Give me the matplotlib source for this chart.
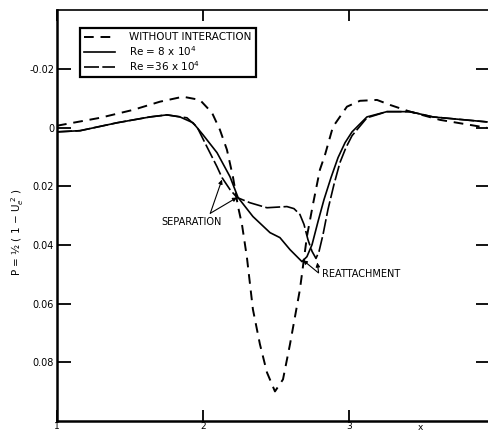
import matplotlib
matplotlib.use("Agg")
import matplotlib.pyplot as plt

# ---- data ----
x_noint = [1.000, 1.295, 1.521, 1.705, 1.863, 1.979, 2.062, 2.116, 2.164, 2.205, 2.240, 2.267,
           2.301, 2.342, 2.390, 2.438, 2.493, 2.548, 2.596, 2.664, 2.712, 2.753, 2.801, 2.836,
           2.890, 2.986, 3.075, 3.192, 3.281, 3.418, 3.623, 3.945]
y_noint = [-0.0007, -0.0034, -0.0061, -0.0089, -0.0106, -0.0095, -0.0051, 0.0007, 0.0075, 0.0167,
           0.0269, 0.0330, 0.0443, 0.0620, 0.0739, 0.0835, 0.0900, 0.0859, 0.0739, 0.0552, 0.0371,
           0.0262, 0.0143, 0.0092, -0.0003, -0.0072, -0.0092, -0.0095, -0.0078, -0.0055, -0.0027, 0.0000]

x_re8 = [1.000, 1.158, 1.411, 1.637, 1.753, 1.842, 1.932, 2.000, 2.096, 2.185, 2.240, 2.342, 2.459,
         2.527, 2.596, 2.644, 2.678, 2.712, 2.747, 2.788, 2.829, 2.877, 2.925, 2.973, 3.021, 3.123,
         3.260, 3.418, 3.575, 3.945]
y_re8 = [0.0014, 0.0010, -0.0017, -0.0037, -0.0044, -0.0037, -0.0017, 0.0024, 0.0085, 0.0167, 0.0238,
         0.0303, 0.0358, 0.0375, 0.0416, 0.0440, 0.0457, 0.0440, 0.0399, 0.0320, 0.0245, 0.0170,
         0.0102, 0.0051, 0.0014, -0.0037, -0.0055, -0.0055, -0.0037, -0.0020]

x_re36 = [1.000, 1.158, 1.411, 1.637, 1.753, 1.890, 1.959, 2.027, 2.096, 2.130, 2.185, 2.233, 2.322,
          2.438, 2.575, 2.623, 2.664, 2.692, 2.719, 2.747, 2.774, 2.795, 2.822, 2.856, 2.897, 2.938,
          2.979, 3.021, 3.123, 3.260, 3.418, 3.575, 3.945]
y_re36 = [0.0014, 0.0010, -0.0017, -0.0037, -0.0044, -0.0034, -0.0003, 0.0065, 0.0133, 0.0170, 0.0211,
          0.0238, 0.0256, 0.0273, 0.0269, 0.0276, 0.0296, 0.0330, 0.0382, 0.0422, 0.0446, 0.0422,
          0.0365, 0.0279, 0.0194, 0.0119, 0.0068, 0.0027, -0.0034, -0.0055, -0.0055, -0.0037, -0.0020]

labels = ["WITHOUT INTERACTION", r"Re = 8 x 10$^4$", r"Re =36 x 10$^4$"]
yticks = [-0.02, 0.0, 0.02, 0.04, 0.06, 0.08]
ytick_labels = ["-0.02", "0", "0.02", "0.04", "0.06", "0.08"]
xticks = [1, 2, 3]
xtick_labels = ["1", "2", "3"]

plt.rcParams['font.family'] = ['DejaVu Sans']

W, H = 488, 432
fig = plt.figure(figsize=(W / 100, H / 100), dpi=100)
ax = fig.add_axes([57 / W, 1 - 421 / H, (490 - 57) / W, (421 - 10) / H])

ax.plot(x_noint, y_noint, color='black', lw=1.4, ls=(0, (5, 3.5)), label=labels[0])
ax.plot(x_re8, y_re8, color='black', lw=1.2, ls='-', label=labels[1])
ax.plot(x_re36, y_re36, color='black', lw=1.2, ls=(0, (9, 2)), label=labels[2])

ax.set_xlim(1.0, 3.966)
ax.set_ylim(0.1001, -0.0402)

ax.set_yticks(yticks)
ax.set_yticklabels(ytick_labels, fontsize=7)
ax.set_xticks(xticks)
ax.set_xticklabels(xtick_labels, fontsize=6.5)
ax.tick_params(axis='y', direction='in', length=10, width=1.3, left=True, right=True, pad=2)
ax.tick_params(axis='x', direction='in', length=8, width=1.3, bottom=True, top=True, pad=0.8)
for s in ['left', 'bottom']:
    ax.spines[s].set_linewidth(1.8)
ax.spines['top'].set_linewidth(1.2)
ax.spines['right'].set_visible(False)

fig.text(420 / W, 1 - 423 / H, "x", fontsize=6.5, ha='center', va='top')

fig.text(18 / W, 1 - 232 / H, "P = \u00bd ( 1 \u2212 U$_e^{\\ 2}$ )", rotation=90,
         fontsize=7.5, ha='center', va='center')

leg = ax.legend(loc='upper left', bbox_to_anchor=(80 / W, 1 - 28 / H),
                bbox_transform=fig.transFigure, borderaxespad=0, fontsize=7.5,
                handlelength=3.0, handletextpad=1.3, labelspacing=0.15,
                fancybox=False, framealpha=1, borderpad=0.4)
leg.get_frame().set_edgecolor('black')
leg.get_frame().set_linewidth(1.6)

arrow = dict(arrowstyle='-|>', lw=0.8, color='black', mutation_scale=6, shrinkA=0, shrinkB=0)
ax.text(1.925, 0.0322, "SEPARATION", fontsize=7, ha='center', va='center')
ax.annotate("", xy=(2.130, 0.0177), xytext=(2.050, 0.0292), arrowprops=arrow)
ax.annotate("", xy=(2.233, 0.0238), xytext=(2.050, 0.0292), arrowprops=arrow)

ax.text(2.818, 0.0500, "REATTACHMENT", fontsize=7, ha='left', va='center')
ax.annotate("", xy=(2.685, 0.0452), xytext=(2.790, 0.0495), arrowprops=arrow)
ax.annotate("", xy=(2.783, 0.0460), xytext=(2.792, 0.0495), arrowprops=arrow)

fig.savefig("out.png", dpi=100)
